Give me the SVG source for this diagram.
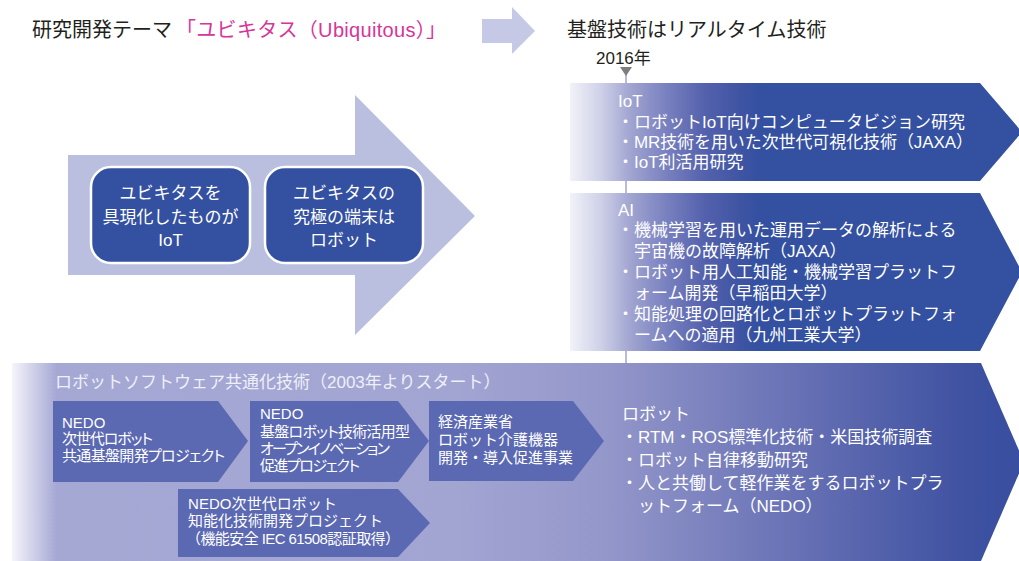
<svg xmlns="http://www.w3.org/2000/svg" width="1019" height="561" viewBox="0 0 1019 561">
<defs>
<linearGradient id="gBand" gradientUnits="userSpaceOnUse" x1="570" y1="0" x2="760" y2="0">
<stop offset="0" stop-color="#f2f2f9"/>
<stop offset="0.16" stop-color="#cfd1e8"/>
<stop offset="0.32" stop-color="#a0a4d0"/>
<stop offset="0.5" stop-color="#7a82c0"/>
<stop offset="0.7" stop-color="#5562ad"/>
<stop offset="0.9" stop-color="#3e54a3"/>
<stop offset="1" stop-color="#3450a1"/>
</linearGradient>
<linearGradient id="gRobot" gradientUnits="userSpaceOnUse" x1="12" y1="0" x2="1000" y2="0">
<stop offset="0" stop-color="#f5f5fb"/>
<stop offset="0.045" stop-color="#a6a8d4"/>
<stop offset="0.45" stop-color="#a2a5d2"/>
<stop offset="0.6" stop-color="#9497ca"/>
<stop offset="0.8" stop-color="#6670b4"/>
<stop offset="0.95" stop-color="#4254a3"/>
<stop offset="1" stop-color="#3a4fa0"/>
</linearGradient>
</defs>
<style>
text{font-family:"Liberation Sans","Noto Sans CJK JP",sans-serif;}
.title{font-size:20px;fill:#231f20;}
.pink{font-size:20px;fill:#d6359a;}
.year{font-size:17px;fill:#231f20;}
.band{font-size:17px;fill:#ffffff;}
.box{font-size:17px;fill:#ffffff;}
.chev{fill:#5b68b2;}
.ct{font-size:15px;fill:#ffffff;}
.cp{font-feature-settings:"palt";}
.rt{font-size:17px;fill:#eef0f8;}
.rbox{fill:#3450a1;stroke:#ffffff;stroke-width:2.5;}
</style>

<g id="heading">
<text class="title" x="32" y="37">研究開発テーマ</text>
<text class="pink" x="176" y="37" textLength="270">「ユビキタス（Ubiquitous）」</text>
<text class="title" x="567" y="37">基盤技術はリアルタイム技術</text>
<text class="year" x="596" y="64">2016年</text>
</g>

<g id="connectors">
<polygon points="482,19 512,19 512,7 535,31 512,54 512,43 482,43" fill="#c5c9e6"/>
<line x1="626" y1="74" x2="626" y2="363" stroke="#b8bbdd" stroke-width="2"/>
<polygon points="620,67 632,67 626,76" fill="#7d7d7d"/>
</g>

<g id="big-arrow">
<polygon points="68,155 355,155 355,95 475,216 355,335 355,275 68,275" fill="#babfdf"/>
</g>

<g id="node-iot-box">
<rect class="rbox" x="91" y="167" width="159" height="96" rx="20"/>
<text class="box" text-anchor="middle" x="170.5" y="199">ユビキタスを</text>
<text class="box" text-anchor="middle" x="170.5" y="223">具現化したものが</text>
<text class="box" text-anchor="middle" x="170.5" y="246">IoT</text>
</g>

<g id="node-robot-box">
<rect class="rbox" x="265" y="167" width="158" height="96" rx="20"/>
<text class="box" text-anchor="middle" x="344" y="199">ユビキタスの</text>
<text class="box" text-anchor="middle" x="344" y="223">究極の端末は</text>
<text class="box" text-anchor="middle" x="344" y="246">ロボット</text>
</g>

<g id="band-iot">
<polygon points="570,83 980,83 1022,132 980,181 570,181" fill="url(#gBand)"/>
<text class="band" x="618" y="107">IoT</text>
<text class="band" x="617" y="128" textLength="348">・ロボットIoT向けコンピュータビジョン研究</text>
<text class="band" x="617" y="148" textLength="356">・MR技術を用いた次世代可視化技術（JAXA）</text>
<text class="band" x="617" y="168">・IoT利活用研究</text>
</g>

<g id="band-ai">
<polygon points="570,193 980,193 1022,272 980,351 570,351" fill="url(#gBand)"/>
<text class="band" x="618" y="216">AI</text>
<text class="band" x="617" y="236">・機械学習を用いた運用データの解析による</text>
<text class="band" x="634" y="257">宇宙機の故障解析（JAXA）</text>
<text class="band" x="617" y="278">・ロボット用人工知能・機械学習プラットフ</text>
<text class="band" x="634" y="299">ォーム開発（早稲田大学）</text>
<text class="band" x="617" y="320">・知能処理の回路化とロボットプラットフォ</text>
<text class="band" x="634" y="341">ームへの適用（九州工業大学）</text>
</g>

<g id="band-robot">
<polygon points="12,363 981,363 1024,462 981,561 12,561" fill="url(#gRobot)"/>
<text class="rt" x="55" y="388">ロボットソフトウェア共通化技術（2003年よりスタート）</text>
<text class="band" x="622" y="420">ロボット</text>
<text class="band" x="621" y="443">・RTM・ROS標準化技術・米国技術調査</text>
<text class="band" x="621" y="466">・ロボット自律移動研究</text>
<text class="band" x="621" y="489">・人と共働して軽作業をするロボットプラ</text>
<text class="band" x="638" y="512">ットフォーム（NEDO）</text>
</g>

<g id="node-nedo1">
<polygon class="chev" points="53,401 218,401 248,441 218,482 53,482"/>
<text class="ct" x="62" y="428">NEDO</text>
<text class="ct cp" x="62" y="444" textLength="91">次世代ロボット</text>
<text class="ct cp" x="62" y="461" textLength="163">共通基盤開発プロジェクト</text>
</g>

<g id="node-nedo2">
<polygon class="chev" points="250,401 398,401 429,441 398,482 250,482"/>
<text class="ct" x="260" y="419">NEDO</text>
<text class="ct cp" x="260" y="437" textLength="150">基盤ロボット技術活用型</text>
<text class="ct cp" x="260" y="454" textLength="130">オープンイノベーション</text>
<text class="ct cp" x="260" y="471" textLength="100">促進プロジェクト</text>
</g>

<g id="node-meti">
<polygon class="chev" points="429,401 573,401 604,441 573,481 429,481"/>
<text class="ct" x="438" y="427">経済産業省</text>
<text class="ct" x="438" y="445">ロボット介護機器</text>
<text class="ct" x="438" y="463">開発・導入促進事業</text>
</g>

<g id="node-nedo3">
<polygon class="chev" points="178,489 398,489 430,523 398,557 178,557"/>
<text class="ct" x="188" y="509" textLength="149">NEDO次世代ロボット</text>
<text class="ct" x="188" y="526">知能化技術開発プロジェクト</text>
<text class="ct" x="186" y="544" textLength="214">（機能安全 IEC 61508認証取得）</text>
</g>
</svg>
